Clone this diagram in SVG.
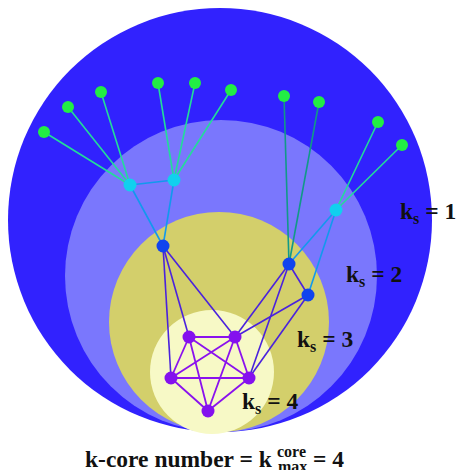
<svg xmlns="http://www.w3.org/2000/svg" width="458" height="470" viewBox="0 0 458 470">
<style>
.lbl{font-family:"Liberation Serif","Times New Roman",serif;font-weight:bold;font-size:23.5px;fill:#111}
.sub{font-size:16px}
.g{fill:#22ee44}.c{fill:#11d0ee}.b{fill:#1144ee}.p{fill:#8411ee}
.eg{stroke:#22dd99;stroke-width:1.6}
.et{stroke:#119988;stroke-width:1.6}
.ec{stroke:#1199ee;stroke-width:1.6}
.eb{stroke:#4a22dd;stroke-width:1.6}
.ep{stroke:#8a11ee;stroke-width:1.8}
</style>
<g id="shells">
<circle cx="220" cy="220" r="212" fill="#3122fe"/>
<circle cx="221" cy="276" r="156" fill="#7a77fd"/>
<circle cx="219" cy="322" r="110" fill="#d3cf6b"/>
<circle cx="212" cy="372" r="62" fill="#f7f9c6"/>
</g>
<g id="connectors" fill="none">
<line class="eg" x1="44" y1="132" x2="130" y2="185"/>
<line class="eg" x1="68" y1="107" x2="130" y2="185"/>
<line class="eg" x1="101" y1="92" x2="130" y2="185"/>
<line class="eg" x1="158" y1="83" x2="174" y2="180"/>
<line class="eg" x1="195" y1="83" x2="174" y2="180"/>
<line class="eg" x1="231" y1="90" x2="174" y2="180"/>
<line class="eg" x1="378" y1="122" x2="336" y2="210"/>
<line class="eg" x1="402" y1="145" x2="336" y2="210"/>
<line class="et" x1="284" y1="96" x2="289" y2="264"/>
<line class="et" x1="319" y1="102" x2="289" y2="264"/>
<line class="ec" x1="130" y1="185" x2="174" y2="180"/>
<line class="ec" x1="130" y1="185" x2="163" y2="246"/>
<line class="ec" x1="174" y1="180" x2="163" y2="246"/>
<line class="ec" x1="336" y1="210" x2="289" y2="264"/>
<line class="ec" x1="336" y1="210" x2="308" y2="295"/>
<line class="eb" x1="163" y1="246" x2="189" y2="337"/>
<line class="eb" x1="163" y1="246" x2="171" y2="378"/>
<line class="eb" x1="163" y1="246" x2="235" y2="337"/>
<line class="eb" x1="289" y1="264" x2="308" y2="295"/>
<line class="eb" x1="289" y1="264" x2="235" y2="337"/>
<line class="eb" x1="289" y1="264" x2="249" y2="378"/>
<line class="eb" x1="308" y1="295" x2="235" y2="337"/>
<line class="eb" x1="308" y1="295" x2="249" y2="378"/>
<line class="ep" x1="189" y1="337" x2="235" y2="337"/>
<line class="ep" x1="189" y1="337" x2="171" y2="378"/>
<line class="ep" x1="189" y1="337" x2="249" y2="378"/>
<line class="ep" x1="189" y1="337" x2="208" y2="411"/>
<line class="ep" x1="235" y1="337" x2="171" y2="378"/>
<line class="ep" x1="235" y1="337" x2="249" y2="378"/>
<line class="ep" x1="235" y1="337" x2="208" y2="411"/>
<line class="ep" x1="171" y1="378" x2="249" y2="378"/>
<line class="ep" x1="171" y1="378" x2="208" y2="411"/>
<line class="ep" x1="249" y1="378" x2="208" y2="411"/>
</g>
<g id="n-g1"><circle class="g" cx="44" cy="132" r="6"/></g>
<g id="n-g2"><circle class="g" cx="68" cy="107" r="6"/></g>
<g id="n-g3"><circle class="g" cx="101" cy="92" r="6"/></g>
<g id="n-g4"><circle class="g" cx="158" cy="83" r="6"/></g>
<g id="n-g5"><circle class="g" cx="195" cy="83" r="6"/></g>
<g id="n-g6"><circle class="g" cx="231" cy="90" r="6"/></g>
<g id="n-g7"><circle class="g" cx="284" cy="96" r="6"/></g>
<g id="n-g8"><circle class="g" cx="319" cy="102" r="6"/></g>
<g id="n-g9"><circle class="g" cx="378" cy="122" r="6"/></g>
<g id="n-g10"><circle class="g" cx="402" cy="145" r="6"/></g>
<g id="n-c1"><circle class="c" cx="130" cy="185" r="6.5"/></g>
<g id="n-c2"><circle class="c" cx="174" cy="180" r="6.5"/></g>
<g id="n-c3"><circle class="c" cx="336" cy="210" r="6.5"/></g>
<g id="n-b1"><circle class="b" cx="163" cy="246" r="6.5"/></g>
<g id="n-b2"><circle class="b" cx="289" cy="264" r="6.5"/></g>
<g id="n-b3"><circle class="b" cx="308" cy="295" r="6.5"/></g>
<g id="n-p1"><circle class="p" cx="189" cy="337" r="6.5"/></g>
<g id="n-p2"><circle class="p" cx="235" cy="337" r="6.5"/></g>
<g id="n-p3"><circle class="p" cx="171" cy="378" r="6.5"/></g>
<g id="n-p4"><circle class="p" cx="249" cy="378" r="6.5"/></g>
<g id="n-p5"><circle class="p" cx="208" cy="411" r="6.5"/></g>
<g id="labels">
<text class="lbl" x="400" y="219">k<tspan class="sub" dy="5">s</tspan><tspan dy="-5"> = 1</tspan></text>
<text class="lbl" x="346" y="282">k<tspan class="sub" dy="5">s</tspan><tspan dy="-5"> = 2</tspan></text>
<text class="lbl" x="297" y="347">k<tspan class="sub" dy="5">s</tspan><tspan dy="-5"> = 3</tspan></text>
<text class="lbl" x="242" y="409">k<tspan class="sub" dy="5">s</tspan><tspan dy="-5"> = 4</tspan></text>
<text class="lbl" x="85" y="467">k-core number = k<tspan class="sub" x="277" y="457">core</tspan><tspan class="sub" x="278" y="472">max</tspan><tspan x="307" y="467"> = 4</tspan></text>
</g>
</svg>
